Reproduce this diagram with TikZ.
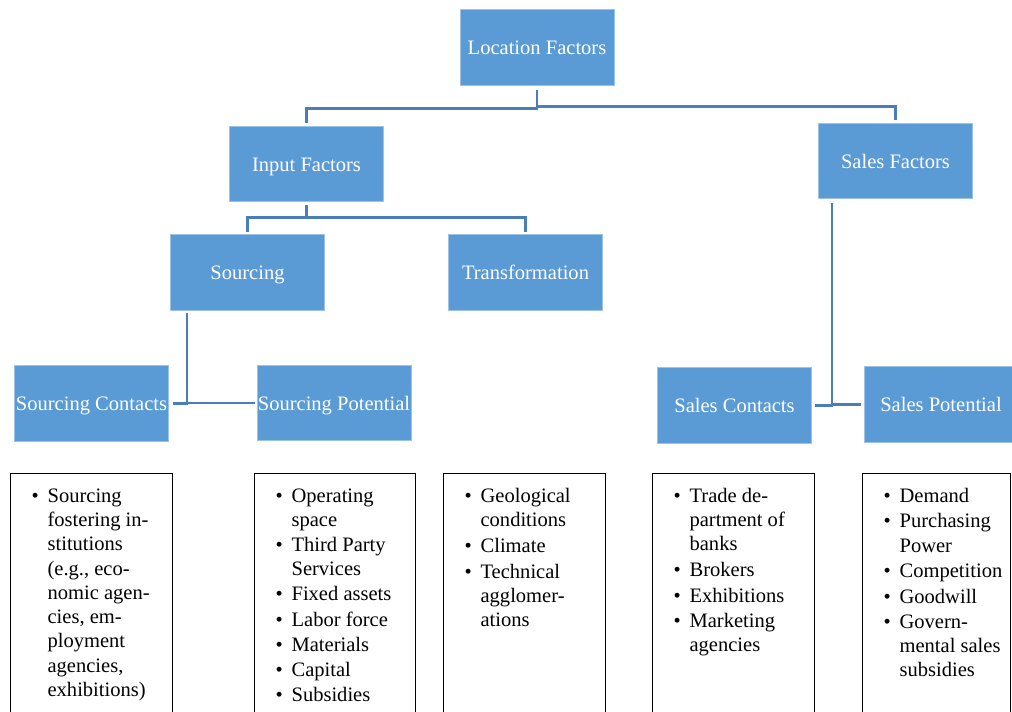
\documentclass[tikz,border=0pt]{standalone}
\usepackage{fontspec}
\setmainfont{Liberation Serif}
\definecolor{boxblue}{HTML}{5B9BD5}
\definecolor{boxedge}{HTML}{9CC2E5}
\definecolor{linkblue}{HTML}{4A7EBB}
% bullet with hanging indent for the list boxes
\newcommand\lbul{\strut\makebox[12pt][l]{\textbullet}}
\newcommand\lind{\hspace*{12pt}}
\tikzset{
  factor/.style={rectangle, fill=boxblue, draw=boxedge, line width=0.6pt,
    minimum width=115.5pt, minimum height=56.5pt, inner sep=0pt, text=white,
    text height=12.5pt, text depth=2pt,
    font=\fontsize{15.4}{18.2}\selectfont},
  conn/.style={draw=linkblue, line width=2pt},
  listbox/.style={rectangle, draw=black, line width=0.8pt, anchor=north west,
    inner sep=0pt, minimum height=183pt},
  listtext/.style={anchor=north west, inner sep=0pt, align=left,
    font=\fontsize{15.4}{18.2}\selectfont},
}
\begin{document}
\begin{tikzpicture}[x=0.75pt,y=-0.75pt]
\useasboundingbox (0,0) rectangle (1012,711);

% factor boxes
\node[factor] (loc)   at (537,47.5)   {Location Factors};
\node[factor] (inp)   at (306.5,164)  {Input Factors};
\node[factor] (sales) at (895.5,161)  {Sales Factors};
\node[factor] (src)   at (247.5,272.5){Sourcing};
\node[factor] (trans) at (525.5,272.5){Transformation};
\node[factor] (scont) at (91.5,403.5) {Sourcing Contacts};
\node[factor] (spot)  at (334,403)    {Sourcing Potential};
\node[factor] (salc)  at (734.5,405.5){Sales Contacts};
\node[factor] (salp)  at (941,404.5)  {Sales Potential};

% connectors
\draw[conn] ([yshift=-3pt]loc.south) -- ++(0,19) -| ([yshift=2pt]inp.north);
\draw[conn] ([yshift=-3pt]loc.south) ++(0,17) -| ([yshift=2pt]sales.north);
\draw[conn] ([yshift=-2pt]inp.south) -- ++(0,13) -| ([yshift=2pt]src.north);
\draw[conn] ([yshift=-2pt]inp.south) ++(0,13) -| ([yshift=2pt]trans.north);
\coordinate (srcfoot) at ([xshift=12.75pt,yshift=-2pt]src.south west);
\draw[conn] (srcfoot) |- ([xshift=3pt]scont.east);
\draw[conn] (srcfoot) |- ([xshift=-1pt]spot.west);
\coordinate (salfoot) at ([xshift=10.5pt,yshift=-3pt]sales.south west);
\draw[conn] (salfoot) |- ([xshift=2.5pt]salc.east);
\draw[conn] (salfoot) |- ([xshift=-2pt]salp.west);

% list boxes
\node[listbox, minimum width=121.5pt] (b1) at (10,472.5)  {};
\node[listbox, minimum width=121pt]   (b2) at (254,472.5) {};
\node[listbox, minimum width=121.5pt] (b3) at (443,472.5) {};
\node[listbox, minimum width=121.5pt] (b4) at (652,472.5) {};
\node[listbox, minimum width=111pt]   (b5) at (862,472.5) {};

\node[listtext] (t1) at ([xshift=16pt,yshift=-9.4pt]b1.north west)
  {\lbul Sourcing\\ \lind fostering in-\\ \lind stitutions\\ \lind (e.g., eco-\\
   \lind nomic agen-\\ \lind cies, em-\\ \lind ployment\\ \lind agencies,\\ \lind exhibitions)};
\node[listtext] (t2) at ([xshift=16pt,yshift=-9.4pt]b2.north west)
  {\lbul Operating\\ \lind space\\[0.6pt] \lbul Third Party\\ \lind Services\\[0.6pt]
   \lbul Fixed assets\\[0.6pt] \lbul Labor force\\[0.6pt] \lbul Materials\\[0.6pt]
   \lbul Capital\\[0.6pt] \lbul Subsidies};
\node[listtext] (t3) at ([xshift=16pt,yshift=-9.4pt]b3.north west)
  {\lbul Geological\\ \lind conditions\\[1.2pt] \lbul Climate\\[1.2pt]
   \lbul Technical\\ \lind agglomer-\\ \lind ations};
\node[listtext] (t4) at ([xshift=16pt,yshift=-9.4pt]b4.north west)
  {\lbul Trade de-\\ \lind partment of\\ \lind banks\\[1pt] \lbul Brokers\\[1pt]
   \lbul Exhibitions\\[1pt] \lbul Marketing\\ \lind agencies};
\node[listtext] (t5) at ([xshift=16pt,yshift=-9.4pt]b5.north west)
  {\lbul Demand\\[1pt] \lbul Purchasing\\ \lind Power\\[1pt] \lbul Competition\\[0.8pt]
   \lbul Goodwill\\[0.8pt] \lbul Govern-\\ \lind mental sales\\ \lind subsidies};
\end{tikzpicture}
\end{document}
